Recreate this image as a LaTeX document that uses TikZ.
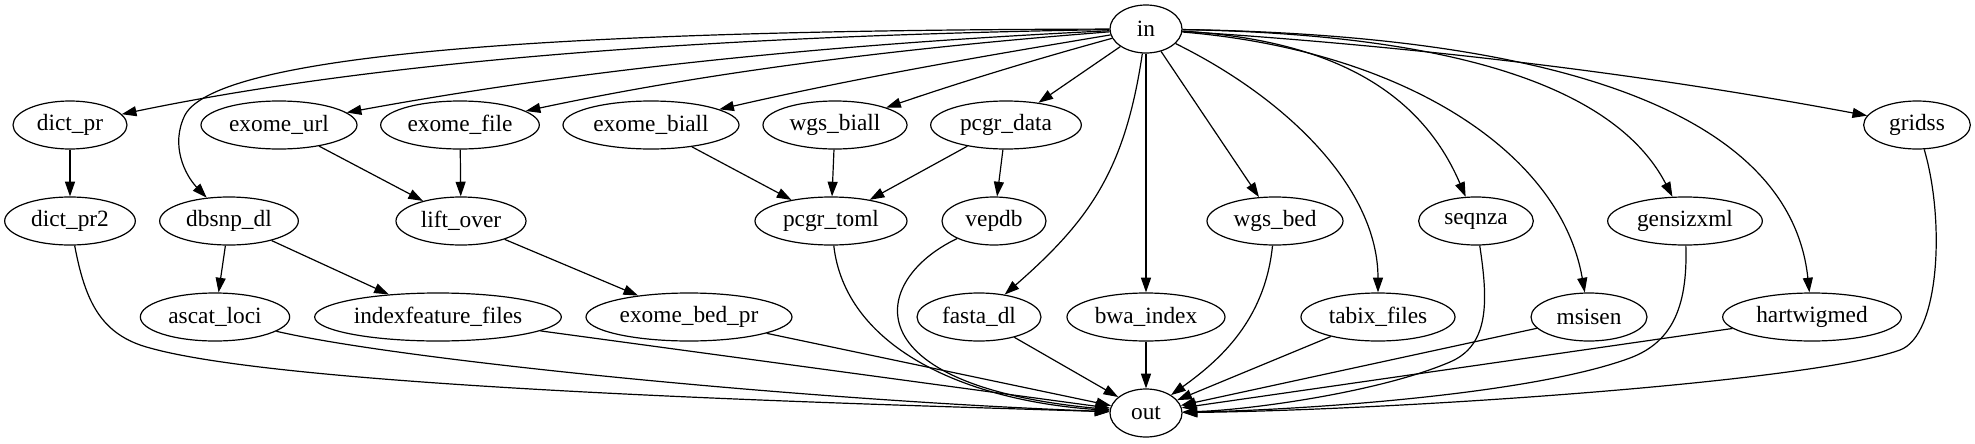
\documentclass[tikz,border=0pt]{standalone}
\usepackage{fontspec}
\setmainfont{Liberation Serif}
\usepackage{tikz}
\usetikzlibrary{shapes.geometric,arrows.meta}
\tikzset
{
  jobnode/.style = {ellipse, draw=black, align=center, inner sep=0pt, minimum height=36pt, minimum width=54pt, font=\fontsize{17.5}{20}\selectfont}
}
\begin{document}
\begin{tikzpicture}[->,>={Triangle[length=11pt,width=7.5pt]},line width=0.9pt,x=0.75pt,y=-0.75pt]
            \useasboundingbox (0,0) rectangle (1975,443);
            \node [jobnode] (in) at (1146,29) {in};
            \node [jobnode, minimum width=85.5pt] (dictpr) at (70,125) {dict\_pr};
            \node [jobnode, minimum width=117pt] (exomeurl) at (279,125) {exome\_url};
            \node [jobnode, minimum width=119pt] (exomefile) at (460,125) {exome\_file};
            \node [jobnode, minimum width=132pt] (exomebiall) at (651,125) {exome\_biall};
            \node [jobnode, minimum width=108pt] (wgsbiall) at (835,125) {wgs\_biall};
            \node [jobnode, minimum width=113pt] (pcgrdata) at (1006,125) {pcgr\_data};
            \node [jobnode, minimum width=80pt] (gridss) at (1917,125) {gridss};
            \node [jobnode, minimum width=98pt] (dictpr2) at (70,221) {dict\_pr2};
            \node [jobnode, minimum width=104pt] (dbsnpdl) at (229,221) {dbsnp\_dl};
            \node [jobnode, minimum width=97.5pt] (liftover) at (461,221) {lift\_over};
            \node [jobnode, minimum width=114pt] (pcgrtoml) at (831,221) {pcgr\_toml};
            \node [jobnode, minimum width=78pt] (vepdb) at (994,221) {vepdb};
            \node [jobnode, minimum width=102pt] (wgsbed) at (1275,221) {wgs\_bed};
            \node [jobnode, minimum width=86pt] (seqnza) at (1476,221) {seqnza};
            \node [jobnode, minimum width=116pt] (gensizxml) at (1685,221) {gensizxml};
            \node [jobnode, minimum width=112pt] (ascatloci) at (215,317) {ascat\_loci};
            \node [jobnode, minimum width=185pt] (indexfeaturefiles) at (438,317) {indexfeature\_files};
            \node [jobnode, minimum width=154.5pt] (exomebedpr) at (689,317) {exome\_bed\_pr};
            \node [jobnode, minimum width=93pt] (fastadl) at (979,317) {fasta\_dl};
            \node [jobnode, minimum width=118.5pt] (bwaindex) at (1146,317) {bwa\_index};
            \node [jobnode, minimum width=115.5pt] (tabixfiles) at (1378,317) {tabix\_files};
            \node [jobnode, minimum width=87pt] (msisen) at (1589,317) {msisen};
            \node [jobnode, minimum width=134pt] (hartwigmed) at (1812,317) {hartwigmed};
            \node [jobnode] (out) at (1146,413) {out};

            \draw (in) .. controls (709,36) and (377,61) .. (dictpr);
            \draw (in) .. controls (600,30) and (220,50) .. (185,115) .. controls (170,145) and (185,175) .. (dbsnpdl);
            \draw (in) .. controls (852,43) and (594,67) .. (exomeurl);
            \draw (in) .. controls (914,47) and (718,70) .. (exomefile);
            \draw (in) .. controls (990,55) and (860,77) .. (exomebiall);
            \draw (in) .. controls (1044,57) and (970,79) .. (wgsbiall);
            \draw (in) -- (pcgrdata);
            \draw (in) .. controls (1125,170) and (1090,220) .. (fastadl);
            \draw (in) -- (bwaindex);
            \draw (in) -- (wgsbed);
            \draw (in) .. controls (1290,100) and (1378,190) .. (tabixfiles);
            \draw (in) .. controls (1330,40) and (1420,90) .. (seqnza);
            \draw (in) .. controls (1400,50) and (1560,150) .. (msisen);
            \draw (in) .. controls (1500,35) and (1625,105) .. (gensizxml);
            \draw (in) .. controls (1550,35) and (1790,110) .. (hartwigmed);
            \draw (in) .. controls (1410,46) and (1640,73) .. (gridss);

            \draw (dictpr) -- (dictpr2);
            \draw (exomeurl) -- (liftover);
            \draw (exomefile) -- (liftover);
            \draw (exomebiall) -- (pcgrtoml);
            \draw (wgsbiall) -- (pcgrtoml);
            \draw (pcgrdata) -- (pcgrtoml);
            \draw (pcgrdata) -- (vepdb);
            \draw (dbsnpdl) -- (ascatloci);
            \draw (dbsnpdl) -- (indexfeaturefiles);
            \draw (liftover) -- (exomebedpr);

            \draw (dictpr2) .. controls (85,300) and (100,335) .. (150,348) .. controls (300,390) and (900,405) .. (out);
            \draw (ascatloci) .. controls (400,360) and (800,400) .. (out);
            \draw (indexfeaturefiles) -- (out);
            \draw (exomebedpr) -- (out);
            \draw (pcgrtoml) .. controls (845,345) and (960,400) .. (out);
            \draw (vepdb) .. controls (870,280) and (850,385) .. (out);
            \draw (fastadl) -- (out);
            \draw (bwaindex) -- (out);
            \draw (wgsbed) .. controls (1265,320) and (1220,360) .. (out);
            \draw (tabixfiles) -- (out);
            \draw (seqnza) .. controls (1488,300) and (1490,345) .. (1450,362) .. controls (1380,392) and (1250,410) .. (out);
            \draw (msisen) -- (out);
            \draw (gensizxml) .. controls (1688,310) and (1670,343) .. (1630,358) .. controls (1530,395) and (1300,410) .. (out);
            \draw (hartwigmed) -- (out);
            \draw (gridss) .. controls (1945,220) and (1940,335) .. (1900,350) .. controls (1810,382) and (1400,410) .. (out);
          \end{tikzpicture}
\end{document}
